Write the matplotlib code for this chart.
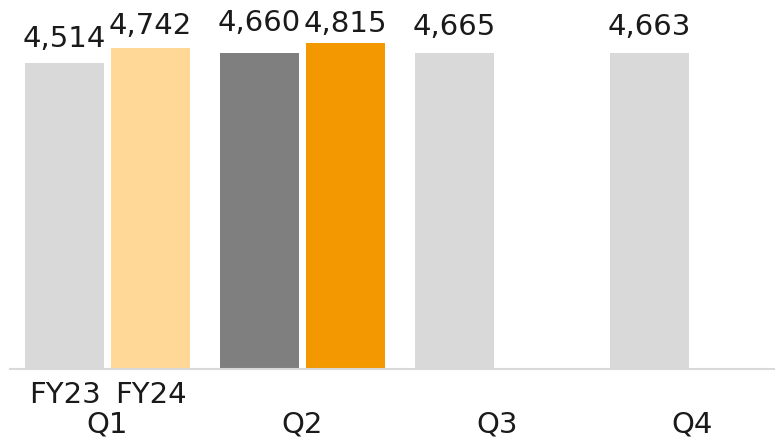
import matplotlib
matplotlib.use("Agg")
import matplotlib.pyplot as plt
import matplotlib.transforms as mtransforms
import numpy as np

quarters = ["Q1", "Q2", "Q3", "Q4"]
fy23 = [4514, 4660, 4665, 4663]
fy24 = [4742, 4815, None, None]
series_labels = ["FY23", "FY24"]

# styles
fy23_colors = ["#d9d9d9", "#7f7f7f", "#d9d9d9", "#d9d9d9"]
fy24_colors = ["#ffd796", "#f39800", "#ffd796", "#ffd796"]
fy23_gap_px = [16, 22, 18, 18]
fy24_gap_px = [14, 11, 0, 0]

W, H = 775, 438
fig = plt.figure(figsize=(W / 100, H / 100), dpi=100)
ax = fig.add_axes([10 / W, (H - 369) / H, 765 / W, 369 / H])

x = np.arange(len(quarters))
off = 0.2205
bw = 0.405
fs = 21
tc = "#1a1a1a"

for i, q in enumerate(quarters):
    if fy23[i] is not None:
        ax.bar(x[i] - off, fy23[i], width=bw, color=fy23_colors[i], zorder=2)
        ax.annotate(f"{fy23[i]:,}", (x[i] - off, fy23[i]),
                    xytext=(0, fy23_gap_px[i] * 0.72),
                    textcoords="offset points", ha="center", va="baseline",
                    fontsize=fs, color=tc)
    if fy24[i] is not None:
        ax.bar(x[i] + off, fy24[i], width=bw, color=fy24_colors[i], zorder=2)
        ax.annotate(f"{fy24[i]:,}", (x[i] + off, fy24[i]),
                    xytext=(0, fy24_gap_px[i] * 0.72),
                    textcoords="offset points", ha="center", va="baseline",
                    fontsize=fs, color=tc)

ax.set_xlim(-0.5, 3.423)
ax.set_ylim(0, 5445)

for s in ["top", "right", "left"]:
    ax.spines[s].set_visible(False)
ax.spines["bottom"].set_color("#d9d9d9")
ax.spines["bottom"].set_linewidth(1.5)
ax.set_yticks([])
ax.set_xticks([])

trans = mtransforms.blended_transform_factory(ax.transData, fig.transFigure)
ax.text(x[0] - off, (H - 403) / H, series_labels[0], transform=trans,
        ha="center", va="baseline", fontsize=fs, color=tc)
ax.text(x[0] + off, (H - 403) / H, series_labels[1], transform=trans,
        ha="center", va="baseline", fontsize=fs, color=tc)
for i, q in enumerate(quarters):
    ax.text(x[i], (H - 433) / H, q, transform=trans, ha="center",
            va="baseline", fontsize=fs, color=tc)

fig.savefig("out.png", dpi=100)
